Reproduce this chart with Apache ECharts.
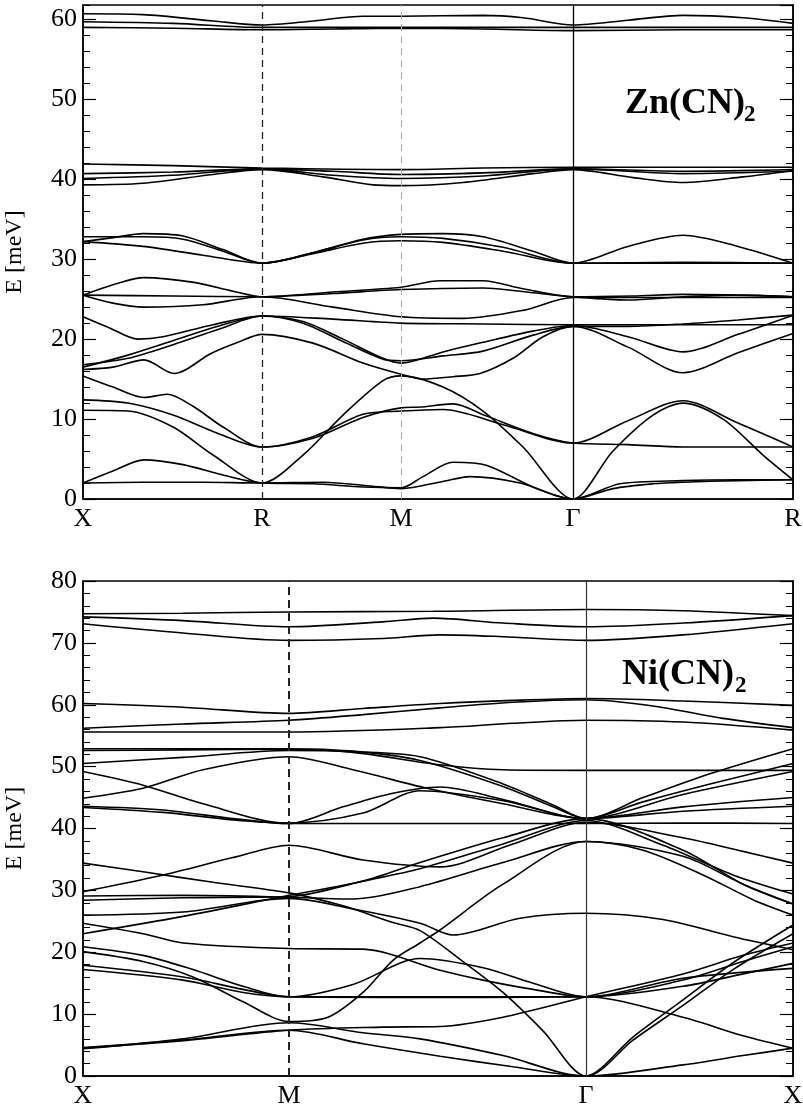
<!DOCTYPE html>
<html><head><meta charset="utf-8">
<script src="https://cdn.jsdelivr.net/npm/echarts@6/dist/echarts.min.js"></script>
<style>html,body{margin:0;padding:0;background:#fff}#c{width:803px;height:1110px}</style>
</head><body><div id="c"></div>
<script>
// ---------- tick labels / symmetry points ----------
const znTickPos = [0, 179, 318, 490, 710];
const znTickLabels = ['X', 'R', 'M', 'Γ', 'R'];
const niTickPos = [0, 206, 503, 710];
const niTickLabels = ['X', 'M', 'Γ', 'X'];

// ---------- Zn(CN)2 bands [k-path position, E meV] ----------
const znHigh = [
  [[0,60.7],[60,60.6],[130,59.8],[179,59.3],[230,59.8],[280,60.4],[318,60.4],[400,60.5],[440,60.2],[490,59.3],[545,59.9],[600,60.5],[660,60.2],[710,59.5]],
  [[0,59.7],[90,59.5],[179,59.0],[250,59.0],[318,59.0],[400,59.0],[490,59.0],[600,59.0],[710,59.0]],
  [[0,59.0],[90,58.9],[179,58.7],[250,58.8],[318,58.9],[400,58.8],[490,58.6],[600,58.7],[710,58.7]]
];
const zn40 = [
  [[0,41.9],[90,41.7],[179,41.4],[318,41.2],[400,41.4],[490,41.5],[600,41.5],[710,41.5]],
  [[0,40.7],[90,40.9],[179,41.3],[250,41.0],[318,40.6],[400,40.8],[490,41.3],[600,41.0],[710,41.2]],
  [[0,40.1],[90,40.5],[179,41.3],[250,40.5],[318,40.1],[400,40.4],[490,41.3],[600,40.7],[710,41.0]],
  [[0,39.3],[60,39.5],[130,40.6],[179,41.2],[240,40.3],[290,39.3],[318,39.2],[380,39.6],[450,40.7],[490,41.2],[550,40.2],[600,39.6],[660,40.3],[710,41.1]]
];
const zn30 = [
  [[0,32.2],[30,32.7],[60,33.2],[100,32.9],[140,31.2],[179,29.5],[230,30.8],[280,32.5],[318,33.1],[360,33.2],[400,32.8],[450,31.0],[490,29.5],[545,31.6],[600,33.0],[655,31.6],[710,29.5]],
  [[0,32.8],[60,32.8],[100,32.5],[140,31.0],[179,29.5],[230,30.8],[280,32.4],[318,32.8],[360,32.6],[420,31.5],[490,29.5],[600,29.5],[710,29.5]],
  [[0,32.2],[60,31.6],[120,30.5],[179,29.5],[230,30.7],[280,32.0],[318,32.3],[360,32.1],[420,31.0],[490,29.5],[600,29.6],[710,29.5]]
];
const zn25 = [
  [[0,25.5],[30,26.8],[61,27.7],[111,27.1],[150,26.0],[179,25.3],[250,25.9],[318,26.5],[357,27.3],[400,27.3],[440,26.3],[490,25.3],[550,25.4],[600,25.6],[710,25.3]],
  [[0,25.5],[90,25.4],[179,25.3],[250,25.7],[318,26.2],[400,26.4],[450,25.8],[490,25.3],[545,24.9],[600,25.3],[660,25.5],[710,25.3]],
  [[0,25.5],[30,24.5],[61,24.0],[120,24.3],[179,25.3],[250,24.0],[318,22.8],[380,22.6],[440,23.6],[490,25.2],[600,25.2],[710,25.2]]
];
const zn20 = [
  [[0,22.8],[25,21.5],[55,20.0],[80,20.3],[130,21.8],[179,22.9],[250,22.5],[318,22.0],[400,21.9],[490,21.8],[600,21.8],[710,21.8]],
  [[0,16.5],[45,18.0],[90,19.8],[135,21.6],[179,22.9],[220,22.2],[260,20.0],[300,17.6],[318,17.0],[360,18.4],[400,19.6],[450,21.0],[490,21.7],[545,20.3],[600,18.4],[655,20.6],[710,23.0]],
  [[0,16.8],[45,17.6],[90,19.3],[135,21.2],[179,22.9],[220,22.0],[260,19.7],[300,17.5],[318,17.3],[360,17.9],[400,18.5],[450,20.5],[490,21.6],[545,19.0],[600,15.8],[655,18.3],[710,20.7]],
  [[0,16.2],[30,16.5],[61,17.4],[91,15.7],[128,18.2],[155,19.6],[179,20.6],[230,19.5],[280,17.0],[318,15.6],[340,15.0],[370,15.3],[397,15.7],[430,17.6],[460,20.3],[490,21.6],[545,21.6],[600,21.9],[655,22.4],[710,23.0]]
];
const znLow = [
  [[0,15.4],[30,14.0],[61,12.7],[84,13.1],[110,11.6],[140,9.0],[179,6.5],[230,7.6],[280,10.2],[318,11.4],[337,11.5],[370,11.9],[403,10.4],[450,8.2],[490,7.0],[545,6.8],[600,6.5],[655,6.5],[710,6.5]],
  [[0,12.4],[45,12.0],[90,10.5],[135,8.2],[179,6.5],[230,7.8],[280,10.6],[318,11.0],[360,11.2],[420,9.3],[490,7.0],[545,9.8],[600,12.3],[655,9.5],[710,6.5]],
  [[0,11.1],[45,11.0],[90,9.0],[130,5.5],[179,2.0],[220,5.5],[260,10.5],[300,14.8],[318,15.4],[360,14.0],[400,11.0],[440,6.5],[490,0],[530,6.0],[570,10.5],[600,12.0],[640,10.0],[680,5.5],[710,2.4]],
  [[0,2.0],[60,2.1],[120,2.1],[179,2.0],[240,2.1],[290,1.6],[318,1.3],[360,2.2],[387,2.8],[437,2.0],[490,0],[537,1.9],[600,2.3],[655,2.4],[710,2.4]],
  [[0,2.0],[30,3.5],[61,4.9],[100,4.3],[140,3.0],[179,2.0],[230,1.9],[280,1.5],[318,1.4],[340,2.8],[370,4.6],[404,4.2],[450,1.5],[490,0],[530,1.3],[570,1.9],[600,2.1],[655,2.3],[710,2.4]]
];

// ---------- Ni(CN)2 bands ----------
const niHigh = [
  [[0,74.7],[100,74.8],[206,75.0],[350,75.1],[503,75.4],[600,75.2],[710,74.4]],
  [[0,74.2],[100,73.6],[206,72.6],[300,73.4],[350,74.0],[420,73.2],[503,72.6],[600,73.2],[710,74.4]],
  [[0,73.1],[100,71.6],[206,70.4],[300,70.7],[357,71.3],[420,71.0],[503,70.4],[600,71.3],[710,73.1]],
  [[0,60.2],[100,59.6],[206,58.6],[280,59.4],[357,60.2],[430,60.7],[503,61.0],[600,60.6],[710,59.9]],
  [[0,56.2],[100,56.9],[206,57.5],[280,58.4],[357,59.5],[430,60.4],[503,60.8],[570,59.8],[640,57.8],[710,56.3]],
  [[0,55.6],[206,55.6],[357,56.3],[430,57.0],[503,57.5],[600,57.2],[710,55.9]]
];
const ni45 = [
  [[0,52.9],[100,52.9],[206,52.9],[270,52.5],[337,51.0],[420,46.8],[470,43.5],[503,41.6],[560,45.0],[630,49.0],[710,52.9]],
  [[0,52.6],[100,52.7],[206,52.8],[270,52.3],[357,50.3],[420,49.5],[503,49.4],[600,49.4],[710,49.4]],
  [[0,50.5],[100,51.5],[206,52.6],[270,52.4],[337,51.6],[420,47.2],[470,43.8],[503,41.6],[560,44.3],[630,47.3],[710,50.5]],
  [[0,49.2],[60,47.0],[120,44.0],[206,40.8],[260,43.5],[310,45.7],[357,46.7],[420,44.7],[503,41.6],[600,45.5],[710,49.2]],
  [[0,44.9],[60,46.5],[120,49.5],[206,51.6],[270,49.5],[344,46.5],[420,44.0],[503,41.6],[600,43.5],[710,45.0]],
  [[0,43.6],[80,43.0],[150,41.6],[206,40.8],[350,40.8],[503,40.8],[600,40.9],[710,40.8]],
  [[0,43.4],[80,42.6],[150,41.4],[206,40.9],[280,42.5],[337,46.1],[420,44.5],[503,41.6],[600,42.8],[710,43.6]]
];
const ni25 = [
  [[0,34.4],[60,33.0],[130,31.3],[206,29.6],[260,27.5],[310,24.8],[337,23.5],[380,18.5],[420,13.5],[460,7.3],[503,0],[550,6.3],[600,12.3],[650,18.3],[710,24.4]],
  [[0,29.8],[80,32.5],[150,35.3],[206,37.3],[280,34.9],[357,33.8],[430,37.5],[503,41.0],[600,38.5],[660,36.3],[710,34.4]],
  [[0,28.4],[100,28.8],[206,29.0],[280,31.5],[337,33.5],[420,37.5],[503,41.3],[580,37.3],[650,32.5],[710,29.4]],
  [[0,29.1],[100,29.2],[206,28.9],[270,28.6],[337,30.6],[420,34.5],[503,37.9],[560,36.5],[620,32.5],[670,28.5],[710,26.0]],
  [[0,26.0],[100,26.5],[206,28.7],[270,27.0],[337,24.7],[370,22.8],[437,25.5],[503,26.3],[580,25.3],[650,22.5],[710,20.4]],
  [[0,23.0],[100,25.8],[206,29.2],[280,31.5],[337,34.5],[420,38.5],[503,41.6],[600,36.5],[660,31.0],[710,27.8]],
  [[0,24.7],[60,23.0],[100,21.5],[206,20.6],[280,20.5],[357,17.1],[400,15.5],[450,14.0],[503,12.8],[600,15.5],[660,18.5],[710,20.9]]
];
const niLow = [
  [[0,20.9],[60,19.5],[110,17.2],[160,14.5],[206,12.8],[300,12.8],[400,12.8],[503,12.8],[600,14.5],[660,16.5],[710,18.2]],
  [[0,20.1],[60,18.5],[110,16.0],[160,12.0],[206,8.8],[245,9.5],[280,13.5],[310,18.7],[337,21.5],[357,23.6],[420,31.0],[503,37.9],[600,35.5],[660,31.0],[710,27.8]],
  [[0,17.9],[100,16.0],[160,14.0],[206,12.8],[270,14.8],[337,19.0],[400,17.5],[450,15.0],[503,12.8],[600,15.8],[710,17.4]],
  [[0,17.2],[100,15.5],[160,13.5],[206,12.8],[300,12.7],[400,12.7],[503,12.8],[600,9.5],[660,6.5],[710,4.5]],
  [[0,4.5],[100,5.7],[206,7.4],[300,7.9],[357,8.0],[420,9.5],[503,12.8],[600,16.5],[660,19.5],[710,21.5]],
  [[0,4.4],[100,6.0],[206,8.6],[280,7.0],[337,6.0],[420,3.3],[503,0],[600,1.8],[660,3.3],[710,4.5]],
  [[0,4.6],[100,5.8],[206,7.4],[280,5.2],[357,3.2],[430,1.5],[503,0],[550,5.8],[600,11.4],[650,17.2],[710,23.0]]
];

// ---------- build chart ----------
const FONT = 'Liberation Serif';
const chart = echarts.init(document.getElementById('c'), null, {renderer: 'canvas'});

function xAxisFor(gridIndex, pos, labels) {
  return {
    type: 'value', gridIndex, min: 0, max: 710,
    axisLine: {show: true, lineStyle: {color: '#000', width: 1.5}},
    axisTick: {show: false}, splitLine: {show: false},
    axisLabel: {
      customValues: pos, showMinLabel: true, showMaxLabel: true,
      formatter: v => { const i = pos.indexOf(v); return i >= 0 ? labels[i] : ''; },
      fontFamily: FONT, fontSize: 26, color: '#000', margin: 7
    }
  };
}
function yAxisPair(gridIndex, max, name) {
  const common = {type: 'value', gridIndex, min: 0, max: max, splitLine: {show: false}};
  return [
    Object.assign({}, common, {position: 'left', interval: 10, name: name, nameLocation: 'middle', nameGap: 56,
      nameTextStyle: {fontFamily: FONT, fontSize: 24, color: '#000'},
      axisLine: {show: true, lineStyle: {color: '#000', width: 1.5}},
      axisTick: {show: true, inside: true, length: 13, lineStyle: {color: '#000', width: 1.2}},
      axisLabel: {fontFamily: FONT, fontSize: 26, color: '#000', margin: 6, showMaxLabel: max % 10 === 0}}),
    Object.assign({}, common, {position: 'left', interval: 2,
      axisLine: {show: false}, axisLabel: {show: false},
      axisTick: {show: true, inside: true, length: 7, lineStyle: {color: '#000', width: 1}}}),
    Object.assign({}, common, {position: 'right', interval: 10,
      axisLine: {show: true, lineStyle: {color: '#000', width: 1.5}}, axisLabel: {show: false},
      axisTick: {show: true, inside: true, length: 13, lineStyle: {color: '#000', width: 1.2}}}),
    Object.assign({}, common, {position: 'right', interval: 2,
      axisLine: {show: false}, axisLabel: {show: false},
      axisTick: {show: true, inside: true, length: 7, lineStyle: {color: '#000', width: 1}}})
  ];
}

const series = [];
function addBands(groups, xi, yi) {
  groups.forEach(g => g.forEach(b => series.push({
    type: 'line', xAxisIndex: xi, yAxisIndex: yi, data: b, smooth: 0.3,
    showSymbol: false, silent: true, lineStyle: {color: '#000', width: 1.6}
  })));
}
addBands([znHigh, zn40, zn30, zn25, zn20, znLow], 0, 0);
addBands([niHigh, ni45, ni25, niLow], 1, 4);

// symmetry-point vertical lines
series.push({type: 'line', xAxisIndex: 0, yAxisIndex: 0, data: [], silent: true,
  markLine: {silent: true, symbol: 'none', label: {show: false}, animation: false, data: [
    {xAxis: znTickPos[1], lineStyle: {type: [7, 5], color: '#222', width: 1.3}},
    {xAxis: znTickPos[2], lineStyle: {type: [7, 5], color: '#aaa', width: 1}},
    {xAxis: znTickPos[3], lineStyle: {type: 'solid', color: '#000', width: 1.3}}
  ]}});
series.push({type: 'line', xAxisIndex: 1, yAxisIndex: 4, data: [], silent: true,
  markLine: {silent: true, symbol: 'none', label: {show: false}, animation: false, data: [
    {xAxis: niTickPos[1], lineStyle: {type: [8, 5], color: '#222', width: 2}},
    {xAxis: niTickPos[2], lineStyle: {type: 'solid', color: '#333', width: 1.2}}
  ]}});

chart.setOption({
  animation: false,
  backgroundColor: '#fff',
  grid: [
    {left: 83, right: 10, top: 5, height: 494, show: true, borderColor: '#000', borderWidth: 1.5, outerBoundsMode: 'none', containLabel: false},
    {left: 83, right: 10, top: 581, height: 495, show: true, borderColor: '#000', borderWidth: 1.5, outerBoundsMode: 'none', containLabel: false}
  ],
  xAxis: [xAxisFor(0, znTickPos, znTickLabels), xAxisFor(1, niTickPos, niTickLabels)],
  yAxis: [].concat(yAxisPair(0, 61.8, 'E [meV]'), yAxisPair(1, 80, 'E [meV]')),
  series: series,
  graphic: [
    {type: 'text', left: 625, top: 86, style: {text: 'Zn(CN)', font: 'bold 36px "Liberation Serif"', fill: '#000'}},
    {type: 'text', left: 744, top: 104, style: {text: '2', font: 'bold 23px "Liberation Serif"', fill: '#000'}},
    {type: 'text', left: 622, top: 657, style: {text: 'Ni(CN)', font: 'bold 36px "Liberation Serif"', fill: '#000'}},
    {type: 'text', left: 735, top: 675, style: {text: '2', font: 'bold 23px "Liberation Serif"', fill: '#000'}}
  ]
});
</script></body></html>
